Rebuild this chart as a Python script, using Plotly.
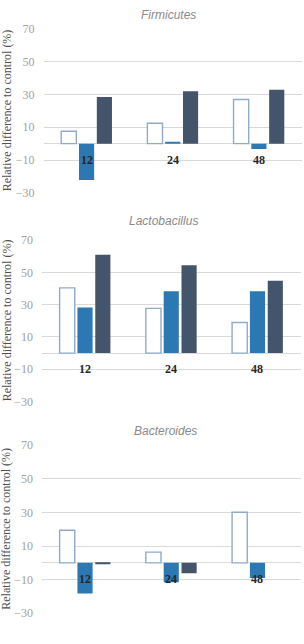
import plotly.graph_objects as go

categories = ["12", "24", "48"]
panel_titles = ["Firmicutes", "Lactobacillus", "Bacteroides"]
series_names = ["A", "B", "C"]

firmicutes_a = [7.6, 12.4, 26.9]
firmicutes_b = [-22.1, 1.0, -3.2]
firmicutes_c = [28.5, 32.0, 32.8]

lactobacillus_a = [40.4, 27.7, 19.0]
lactobacillus_b = [28.3, 38.4, 38.4]
lactobacillus_c = [61.0, 54.4, 44.8]

bacteroides_a = [19.4, 6.4, 30.1]
bacteroides_b = [-18.3, -11.5, -9.0]
bacteroides_c = [-0.9, -6.2, 0.0]

y_ticks = [-30, -10, 10, 30, 50, 70]
y_title = "Relative difference to control (%)"

panels = [
    (firmicutes_a, firmicutes_b, firmicutes_c),
    (lactobacillus_a, lactobacillus_b, lactobacillus_c),
    (bacteroides_a, bacteroides_b, bacteroides_c),
]

W, H = 304, 644
# pixel geometry: (x_left, x_right, y_top(70), y_bottom(-30)), title (x, y)
geom = [
    ((43.5, 302.0), (22.3, 190.0), (168, 8)),
    ((41.9, 300.6), (238.3, 403.3), (163, 219)),
    ((41.9, 300.6), (448.0, 619.7), (165, 433)),
]

fills = ["#ffffff", "#2B78B2", "#44546A"]
lines = ["#8FAACB", "#2B78B2", "#44546A"]
line_w = [1.4, 0, 0]

fig = go.Figure()
serif = "Liberation Serif, Times New Roman, serif"

for i, (vals, g) in enumerate(zip(panels, geom)):
    (xl, xr), (yt, yb), (tx, ty) = g
    xa = "x" if i == 0 else f"x{i+1}"
    ya = "y" if i == 0 else f"y{i+1}"
    for j, v in enumerate(vals):
        fig.add_trace(go.Bar(
            x=categories, y=v, name=series_names[j],
            marker=dict(color=fills[j], line=dict(color=lines[j], width=line_w[j])),
            xaxis=xa, yaxis=ya, showlegend=False,
        ))
    xkey = "xaxis" if i == 0 else f"xaxis{i+1}"
    ykey = "yaxis" if i == 0 else f"yaxis{i+1}"
    fig.update_layout({
        xkey: dict(domain=[xl / W, xr / W], anchor=ya, type="category",
                   categoryorder="array", categoryarray=categories,
                   range=[-0.5, len(categories) - 0.5],
                   showticklabels=False, showgrid=False, showline=False,
                   ticks="", zeroline=False),
        ykey: dict(domain=[(H - yb) / H, (H - yt) / H], anchor=xa,
                   range=[-30, 70], tickvals=y_ticks, showgrid=True,
                   gridcolor="#d9d9d9", gridwidth=1, zeroline=True,
                   zerolinecolor="#d9d9d9", zerolinewidth=1, showline=False,
                   ticks="", ticklabelstandoff=8,
                   tickfont=dict(family=serif, size=12, color="#a0a0a0")),
    })
    # category labels at the zero line (category index positions)
    for k, c in enumerate(categories):
        fig.add_annotation(x=k, y=0, xref=xa, yref=ya, text=f"<b>{c}</b>",
                           showarrow=False, yanchor="top", yshift=-7,
                           font=dict(family=serif, size=12, color="#262626"))
    # panel title
    fig.add_annotation(x=tx / W, y=(H - ty) / H, xref="paper", yref="paper",
                       text=f"<i>{panel_titles[i]}</i>", showarrow=False,
                       xanchor="center", yanchor="middle",
                       font=dict(family="Liberation Sans", size=12, color="#8a8a8a"))
    # y axis title
    fig.add_annotation(x=6.5 / W, y=(H - (yt + yb) / 2) / H, xref="paper", yref="paper",
                       text=y_title, textangle=-90, showarrow=False,
                       xanchor="center", yanchor="middle",
                       font=dict(family=serif, size=12, color="#505050"))

fig.update_layout(
    width=W, height=H, margin=dict(l=0, r=0, t=0, b=0),
    paper_bgcolor="white", plot_bgcolor="white",
    barmode="group", bargap=0.38, bargroupgap=0.15,
)

fig.write_html("out.html")
